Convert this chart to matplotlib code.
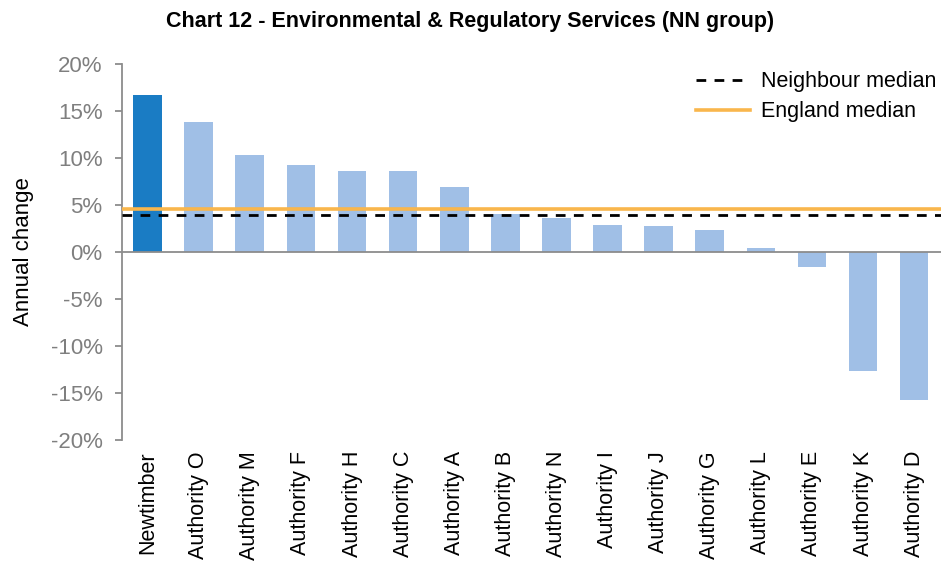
import matplotlib.pyplot as plt
import numpy as np

plt.rcParams['font.family'] = ['Liberation Sans', 'DejaVu Sans']

# datos
authorities = ['Newtimber', 'Authority O', 'Authority M', 'Authority F', 'Authority H',
               'Authority C', 'Authority A', 'Authority B', 'Authority N', 'Authority I',
               'Authority J', 'Authority G', 'Authority L', 'Authority E', 'Authority K',
               'Authority D']
annual_change = [16.7, 13.8, 10.3, 9.3, 8.6, 8.6, 6.9, 4.0, 3.6, 2.9, 2.8, 2.3, 0.4,
                 -1.6, -12.7, -15.7]
neighbour_median = 3.9
england_median = 4.6
yticks = [-20, -15, -10, -5, 0, 5, 10, 15, 20]

fig = plt.figure(figsize=(9.41, 5.66), dpi=100)
ax = fig.add_axes([0.1297, 0.2226, 0.87, 0.6643])

x = np.arange(len(authorities))
colors = ['#1a7cc4'] + ['#a0bfe6'] * (len(authorities) - 1)
ax.bar(x, annual_change, width=0.56, color=colors, zorder=2)

ax.axhline(0, color='#8c8c8c', lw=1.3, zorder=3)
ax.axhline(england_median, color='#f9b64c', lw=2.6, label='England median', zorder=4)
ax.axhline(neighbour_median, color='black', lw=2, ls=(0, (3.5, 3)), label='Neighbour median', zorder=5)

ax.set_xlim(-0.5, len(authorities) - 0.5 + 0.02)
ax.set_ylim(-20, 20)
ax.set_yticks(yticks)
ax.set_yticklabels([f'{v}%' for v in yticks], color='#7f7f7f', fontsize=16)
ax.set_xticks(x)
ax.set_xticklabels(authorities, rotation=90, fontsize=15.5)
ax.tick_params(axis='x', length=0, pad=8)
ax.tick_params(axis='y', length=5, color='#8c8c8c', width=1.3, pad=9)

for s in ['top', 'right', 'bottom']:
    ax.spines[s].set_visible(False)
ax.spines['left'].set_color('#8c8c8c')
ax.spines['left'].set_linewidth(1.3)

ax.set_ylabel('Annual change', fontsize=16, labelpad=12)

h, l = ax.get_legend_handles_labels()
ax.legend(h[::-1], l[::-1], loc='upper right', bbox_to_anchor=(1.005, 1.003), frameon=False,
          fontsize=15.5, handlelength=2.5, handletextpad=0.5, labelspacing=0.4,
          borderaxespad=0)

fig.suptitle('Chart 12 - Environmental & Regulatory Services (NN group)', fontsize=15.5,
             fontweight='bold', y=0.98)

fig.savefig('out.png', dpi=100)
